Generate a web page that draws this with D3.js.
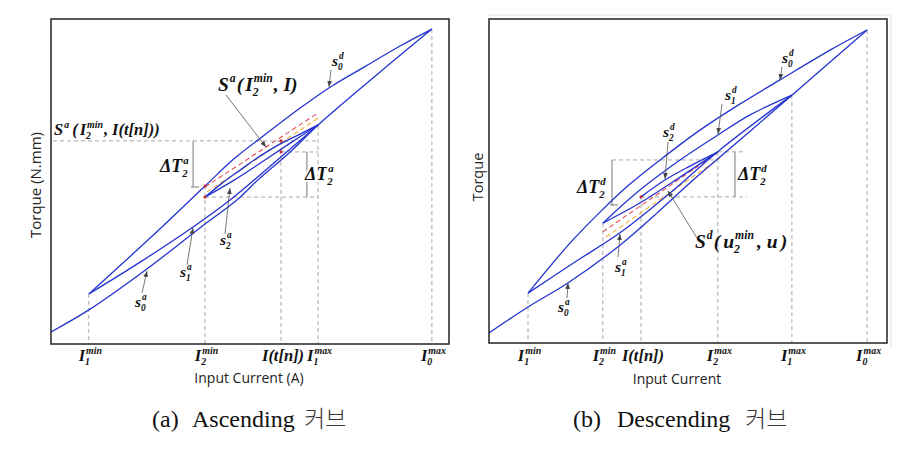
<!DOCTYPE html>
<html><head><meta charset="utf-8">
<script src="https://cdn.jsdelivr.net/npm/d3@7"></script>
<style>
body{margin:0;background:#fff}
svg{display:block}
.m{font-family:"Liberation Serif","DejaVu Serif",serif;font-weight:bold;font-style:italic;fill:#111}
.ttl{font-family:"Open Sans","Noto Sans",sans-serif;fill:#222}
.cap{font-family:"Liberation Serif",serif;fill:#111}
.kr{font-family:"Noto Sans CJK KR",sans-serif;fill:#333;font-weight:300}
.dash{stroke:#a8a8a8;stroke-width:1;stroke-dasharray:4,3;fill:none}
.brk{stroke:#777;stroke-width:1;fill:none}
.lead{stroke:#555;stroke-width:0.8;fill:none}
.halo{paint-order:stroke;stroke:#fff;stroke-width:4px}
</style>
</head><body>
<svg id="c" width="898" height="464"></svg>
<script>
// ---------- (a) Ascending curve data (x: input current 0-100, y: torque 0-100) ----------
const ascTickX   = [9.5, 38.7, 57.8, 67.1, 95.7];
const ascTickMain= ["I","I","I(t[n])","I","I"];
const ascTickSub = ["1","2","","1","0"];
const ascTickSup = ["min","min","","max","max"];
const ascS0a = [[0,3.7],[9.5,10.5],[24.1,23.1],[37.4,35.7],[46.7,44.3],[52.0,50.5],[60.1,59.1],[67.1,67.4],[82.7,83.7],[95.7,96.9]];
const ascS0d = [[95.7,96.9],[87.7,91.7],[79.1,85.5],[70.6,79.4],[62.6,72.6],[54.3,64.9],[46.2,57.2],[38.7,48.6],[24.9,32.6],[9.5,15.4]];
const ascS1a = [[9.5,15.4],[22.4,25.2],[35.7,36.0],[45.0,44.3],[56.3,56.0],[67.1,67.4]];
const ascS1d = [[67.1,67.4],[62.6,64.6],[57.5,61.5],[52.5,57.8],[47.5,53.5],[43.0,49.5],[38.7,45.2]];
const ascS2a = [[38.7,45.2],[45.7,50.2],[53.0,56.0],[60.1,61.8],[67.1,67.4]];
const ascRefRed    = [[38.7,48.3],[67.1,71.1]];
const ascRefOrange = [[39.2,46.8],[67.1,69.5]];
const ascDots = [[38.7,48.6],[38.7,45.2],[57.8,62.5],[57.8,59.1]];
const ascGuidesH = [[0.5,67.1,62.5],[57.8,67.1,59.1],[38.7,67.1,45.2]];
const ascGuidesV = [[9.5,15.4],[38.7,48.6],[57.8,62.5],[67.1,67.4],[95.7,96.9]];
const ascBrackets = [[35.7,62.5,48.3,true],[64.3,59.1,45.2,false]];

// ---------- (b) Descending curve data ----------
const descTickX   = [9.8, 28.6, 38.2, 57.5, 76.1, 95.0];
const descTickMain= ["I","I","I(t[n])","I","I","I"];
const descTickSub = ["1","2","","2","1","0"];
const descTickSup = ["min","min","","max","max","max"];
const descS0a = [[0,3.1],[9.8,11.1],[19.8,18.5],[32.9,30.2],[43.0,41.0],[51.3,50.3],[63.1,62.7],[76.1,76.5],[95.0,96.6]];
const descS0d = [[95.0,96.6],[85.7,90.4],[73.1,81.2],[63.1,73.8],[53.0,65.7],[43.0,56.5],[34.9,48.5],[27.9,40.4],[20.4,30.9],[9.8,15.4]];
const descS1a = [[9.8,15.4],[21.6,25.0],[32.9,34.0],[45.5,46.3],[58.0,59.6],[76.1,76.5]];
const descS1d = [[76.1,76.5],[65.6,70.4],[57.5,64.2],[48.0,56.5],[37.9,47.2],[28.6,37.0]];
const descS2a = [[28.6,37.0],[37.9,43.2],[48.0,51.2],[57.5,59.0]];
const descS2d = [[57.5,59.0],[50.5,54.6],[44.2,50.3],[38.2,45.1]];
const descRefRed    = [[28.6,34.3],[57.3,58.6]];
const descRefOrange = [[29.4,32.7],[58.0,57.1]];
const descDots = [[38.2,45.1]];
const descGuidesH = [[30.9,57.5,56.5],[57.5,64.3,59.0],[38.2,64.8,45.1]];
const descGuidesV = [[9.8,15.4],[28.6,37.0],[38.2,45.1],[57.5,59.0],[76.1,76.5],[95.0,96.6]];
const descBrackets = [[30.9,56.5,42.6,true],[61.8,59.0,45.1,false]];

const svg = d3.select("#c");
svg.append("rect").attr("width",898).attr("height",464).attr("fill","#fff");
const defs = svg.append("defs");
defs.append("marker").attr("id","ah").attr("viewBox","0 0 10 10").attr("refX",10).attr("refY",5)
  .attr("markerWidth",6).attr("markerHeight",6).attr("markerUnits","userSpaceOnUse").attr("orient","auto")
  .append("path").attr("d","M0,1L10,5L0,9Z").attr("fill","#444");

function mtext(parent, x, y, parts, fs, extraCls) {
  const g = parent.append("g").attr("transform",`translate(${x},${y})`);
  let cx = 0; const sfs = fs*0.6;
  const cls = "m" + (extraCls ? " "+extraCls : "");
  parts.forEach(p => {
    if (p.gap !== undefined) { cx += p.gap; return; }
    if (p.t !== undefined) {
      const t = g.append("text").attr("class",cls).attr("x",cx).attr("y",0).style("font-size",fs+"px").text(p.t);
      cx += t.node().getComputedTextLength();
      return;
    }
    let w = 0; const dx = p.dx || 1;
    if (p.sup) { const t = g.append("text").attr("class",cls).attr("x",cx+dx).attr("y",-fs*0.45).style("font-size",sfs+"px").text(p.sup); w = Math.max(w, t.node().getComputedTextLength()+dx); }
    if (p.sub) { const t = g.append("text").attr("class",cls).attr("x",cx).attr("y",fs*0.25).style("font-size",sfs+"px").text(p.sub); w = Math.max(w, t.node().getComputedTextLength()); }
    cx += w + 1;
  });
  return {g, w: cx};
}

function leader(x1,y1,x2,y2){
  svg.append("line").attr("class","lead").attr("x1",x1).attr("y1",y1).attr("x2",x2).attr("y2",y2).attr("marker-end","url(#ah)");
}

function drawPanel(cfg) {
  const x = d3.scaleLinear().domain([0,100]).range([cfg.x0,cfg.x1]);
  const y = d3.scaleLinear().domain([0,100]).range([cfg.y1,cfg.y0]);
  const g = svg.append("g");
  cfg.guidesV.forEach(([gx,gy]) => g.append("line").attr("class","dash")
    .attr("x1",x(gx)).attr("x2",x(gx)).attr("y1",y(gy)).attr("y2",y(0)));
  cfg.guidesH.forEach(([a,b,gy]) => g.append("line").attr("class","dash")
    .attr("x1",x(a)).attr("x2",x(b)).attr("y1",y(gy)).attr("y2",y(gy)));
  cfg.brackets.forEach(([bx,ya,yb,tick]) => {
    g.append("line").attr("class","brk").attr("x1",x(bx)).attr("x2",x(bx)).attr("y1",y(ya)).attr("y2",y(yb));
    if (tick) g.append("line").attr("class","brk").attr("x1",x(bx)-2).attr("x2",x(bx)+6).attr("y1",y(yb)).attr("y2",y(yb));
  });
  const line = d3.line().x(d=>x(d[0])).y(d=>y(d[1])).curve(d3.curveCatmullRom.alpha(0.5));
  const lin = d3.line().x(d=>x(d[0])).y(d=>y(d[1]));
  g.append("path").attr("d",lin(cfg.refOrange)).attr("fill","none").attr("stroke","#f0b040").attr("stroke-width",1.1).attr("stroke-dasharray","5,3");
  g.append("path").attr("d",lin(cfg.refRed)).attr("fill","none").attr("stroke","#e8505a").attr("stroke-width",1.1).attr("stroke-dasharray","5,3");
  cfg.curves.forEach(c => g.append("path").attr("d",line(c)).attr("fill","none").attr("stroke","#2533d0").attr("stroke-width",1.3));
  cfg.dots.forEach(d => g.append("circle").attr("cx",x(d[0])).attr("cy",y(d[1])).attr("r",1.6).attr("fill","#c03040"));
  g.append("rect").attr("x",cfg.x0).attr("y",cfg.y0).attr("width",cfg.x1-cfg.x0).attr("height",cfg.y1-cfg.y0)
    .attr("fill","none").attr("stroke","#222").attr("stroke-width",1.5);
  // tick labels
  cfg.tickX.forEach((tx,i) => {
    const parts = [{t:cfg.tickMain[i]}];
    if (cfg.tickSup[i] || cfg.tickSub[i]) parts.push({sup:cfg.tickSup[i], sub:cfg.tickSub[i], dx:1});
    const r = mtext(svg, 0, 361, parts, 16.5);
    r.g.attr("transform",`translate(${x(tx)+2-r.w/2},361)`);
  });
  return {x,y};
}

drawPanel({x0:51,x1:449,y0:19,y1:344, tickX:ascTickX,tickMain:ascTickMain,tickSub:ascTickSub,tickSup:ascTickSup,
  curves:[ascS0a,ascS0d,ascS1a,ascS1d,ascS2a], refRed:ascRefRed, refOrange:ascRefOrange, dots:ascDots,
  guidesH:ascGuidesH, guidesV:ascGuidesV, brackets:ascBrackets});
// faint outer frame on right panel
svg.append("path").attr("d","M487,15H891V347").attr("fill","none").attr("stroke","#e2e2e2").attr("stroke-width",1);
drawPanel({x0:489,x1:887,y0:19,y1:343, tickX:descTickX,tickMain:descTickMain,tickSub:descTickSub,tickSup:descTickSup,
  curves:[descS0a,descS0d,descS1a,descS1d,descS2a,descS2d], refRed:descRefRed, refOrange:descRefOrange, dots:descDots,
  guidesH:descGuidesH, guidesV:descGuidesV, brackets:descBrackets});

// ---------- annotations: panel (a) ----------
mtext(svg,332,66,[{t:"s"},{sup:"d",sub:"0"}],15.5); leader(331,70,329,87);
mtext(svg,218,91,[{t:"S"},{sup:"a"},{t:"("},{gap:2},{t:"I"},{sup:"min",sub:"2",dx:1},{t:","},{gap:5},{t:"I"},{t:")"}],19.5);
leader(226,95,266,147);
mtext(svg,54,135,[{t:"S"},{sup:"a"},{gap:2},{t:"("},{gap:2},{t:"I"},{sup:"min",sub:"2",dx:1},{t:","},{gap:4},{t:"I(t[n]))"}],16.5);
mtext(svg,160,172,[{t:"ΔT"},{sup:"a",sub:"2"}],18);
mtext(svg,305,180,[{t:"ΔT"},{sup:"a",sub:"2"}],18,"halo");
mtext(svg,220,245,[{t:"s"},{sup:"a",sub:"2"}],15.5); leader(225,234,230,188);
mtext(svg,180,277,[{t:"s"},{sup:"a",sub:"1"}],15.5); leader(187,265,193,228);
mtext(svg,135,307,[{t:"s"},{sup:"a",sub:"0"}],15.5); leader(142,293,147,271);

// ---------- annotations: panel (b) ----------
mtext(svg,782,63,[{t:"s"},{sup:"d",sub:"0"}],15.5); leader(782,67,780,80);
mtext(svg,725,100,[{t:"s"},{sup:"d",sub:"1"}],15.5); leader(722,104,718,134);
mtext(svg,663,137,[{t:"s"},{sup:"d",sub:"2"}],15.5); leader(668,142,665,179);
mtext(svg,577,193,[{t:"ΔT"},{sup:"d",sub:"2"}],18);
mtext(svg,738,180,[{t:"ΔT"},{sup:"d",sub:"2"}],18);
mtext(svg,695,248,[{t:"S"},{sup:"d"},{t:"("},{gap:3},{t:"u"},{sup:"min",sub:"2"},{gap:2},{t:","},{gap:5},{t:"u"},{gap:3},{t:")"}],19.5);
leader(697,238,668,191);
mtext(svg,615,272,[{t:"s"},{sup:"a",sub:"1"}],15.5); leader(618,257,620,234);
mtext(svg,558,312,[{t:"s"},{sup:"a",sub:"0"}],15.5); leader(567,298,568,283);

// ---------- axis titles ----------
svg.append("text").attr("class","ttl").attr("x",249).attr("y",383).attr("text-anchor","middle").style("font-size","14px").text("Input Current (A)");
svg.append("text").attr("class","ttl").attr("x",677).attr("y",384).attr("text-anchor","middle").style("font-size","14px").text("Input Current");
svg.append("text").attr("class","ttl").attr("transform","translate(41,185) rotate(-90)").attr("text-anchor","middle").style("font-size","15px").text("Torque (N.mm)");
svg.append("text").attr("class","ttl").attr("transform","translate(483,177) rotate(-90)").attr("text-anchor","middle").style("font-size","14.5px").text("Torque");

// ---------- captions ----------
const capY = 427;
svg.append("text").attr("class","cap").attr("x",152).attr("y",capY).style("font-size","24px").text("(a)");
svg.append("text").attr("class","cap").attr("x",192).attr("y",capY).style("font-size","24px").text("Ascending");
svg.append("text").attr("class","kr").attr("x",304).attr("y",capY).style("font-size","23px").text("커브");
svg.append("text").attr("class","cap").attr("x",573).attr("y",capY).style("font-size","24px").text("(b)");
svg.append("text").attr("class","cap").attr("x",617).attr("y",capY).style("font-size","24px").text("Descending");
svg.append("text").attr("class","kr").attr("x",745).attr("y",capY).style("font-size","23px").text("커브");
</script>
</body></html>
